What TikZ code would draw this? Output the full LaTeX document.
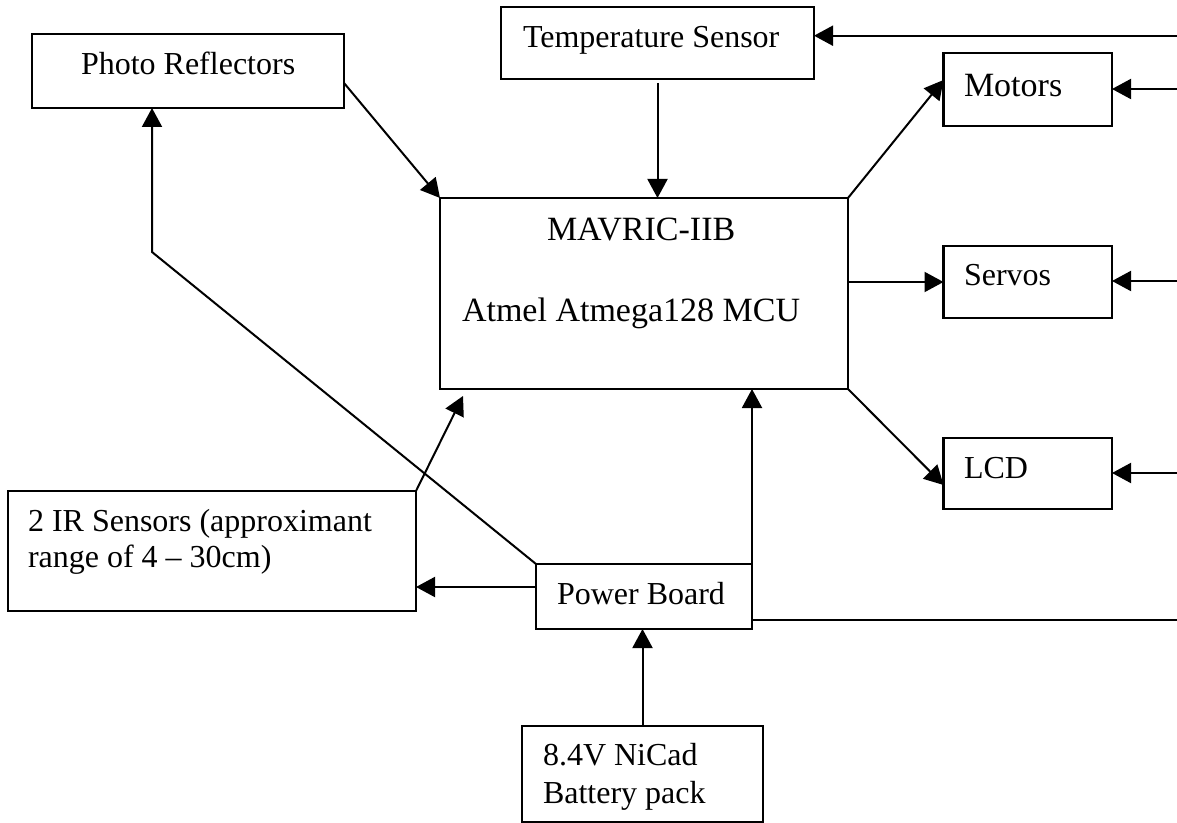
\documentclass[tikz,border=0pt]{standalone}
\usepackage{fontspec}
\setmainfont{Liberation Serif}
\usetikzlibrary{arrows.meta}
\tikzset{
  box/.style={draw, line width=1.1pt, rectangle, inner sep=0pt, outer sep=0pt},
  txt/.style={inner sep=0pt, outer sep=0pt, anchor=base west, font=\fontsize{16}{19}\selectfont},
  bigtxt/.style={txt, font=\fontsize{17}{20}\selectfont},
  conn/.style={line width=1pt},
  arr/.style={conn, -{Triangle[length=9.5pt,width=10pt]}},
}
\begin{document}
\begin{tikzpicture}[x=0.5pt,y=-0.5pt]
\useasboundingbox (0,0) rectangle (1177,823);
% boxes
\node[box, minimum width=312*0.5pt, minimum height=74*0.5pt] (photo) at (188,71) {};
\node[box, minimum width=313*0.5pt, minimum height=72*0.5pt] (temp) at (657.5,43) {};
\node[box, minimum width=168.5*0.5pt, minimum height=73*0.5pt] (motors) at (1027.75,89.5) {};
\node[box, minimum width=168.5*0.5pt, minimum height=72*0.5pt] (servos) at (1027.75,282) {};
\node[box, minimum width=168.5*0.5pt, minimum height=71*0.5pt] (lcd) at (1027.75,473.5) {};
\node[box, minimum width=408*0.5pt, minimum height=191*0.5pt] (mav) at (644,293.5) {};
\node[box, minimum width=408*0.5pt, minimum height=120*0.5pt] (ir) at (212,551) {};
\node[box, minimum width=216*0.5pt, minimum height=65*0.5pt] (pow) at (644,596.5) {};
\node[box, minimum width=241*0.5pt, minimum height=96*0.5pt] (bat) at (642.5,774) {};
% texts
\node[txt] (tphoto) at (81,75) {Photo Reflectors};
\node[txt] (ttemp) at (523,48) {Temperature Sensor};
\node[bigtxt] (tmotors) at (964,97) {Motors};
\node[txt] (tservos) at (964,285.5) {Servos};
\node[txt] (tlcd) at (964,478) {LCD};
\node[bigtxt] (tmav1) at (547,241) {MAVRIC-IIB};
\node[bigtxt] (tmav2) at (462,322) {Atmel Atmega128 MCU};
\node[txt] (tir1) at (28,531) {2 IR Sensors (approximant};
\node[txt] (tir2) at (28,567) {range of 4 – 30cm)};
\node[txt] (tpow) at (557,604) {Power Board};
\node[txt] (tbat1) at (543,765) {8.4V NiCad};
\node[txt] (tbat2) at (543,803) {Battery pack};
% free ends at the right edge
\coordinate (eT) at (1177,35.7);
\coordinate (eM) at (1177,89);
\coordinate (eS) at (1177,281);
\coordinate (eL) at (1177,473);
\coordinate (eP) at (1177,620);
\coordinate (bend) at (152,252);
\coordinate (irtip) at (463,396);
% connectors
\draw[arr] (eT) -- (eT -| temp.east);
\draw[arr] (eM) -- (eM -| motors.east);
\draw[arr] (eS) -- (eS -| servos.east);
\draw[arr] (eL) -- (eL -| lcd.east);
\draw[conn] (eP -| pow.east) -- (eP);
\draw[arr] ([yshift=-2pt]temp.south) -- (temp.south |- mav.north);
\draw[arr] ([yshift=-6pt]photo.east) -- (mav.north west);
\draw[arr] (mav.north east) -- ([yshift=4.75pt]motors.west);
\draw[arr] (servos.west -| mav.east) -- (servos.west);
\draw[arr] (mav.south east) -- ([yshift=-5.75pt]lcd.west);
\draw[arr] (ir.north east) -- (irtip);
\draw[arr] ([yshift=-2pt]pow.north east) -- (pow.north east |- mav.south);
\draw[arr] ([yshift=4.75pt]pow.west) -- ([yshift=4.75pt]pow.west -| ir.east);
\draw[arr] (pow.north west) -- (bend) -- (bend |- photo.south);
\draw[arr] (bat.north) -- (bat.north |- pow.south);
\end{tikzpicture}
\end{document}
